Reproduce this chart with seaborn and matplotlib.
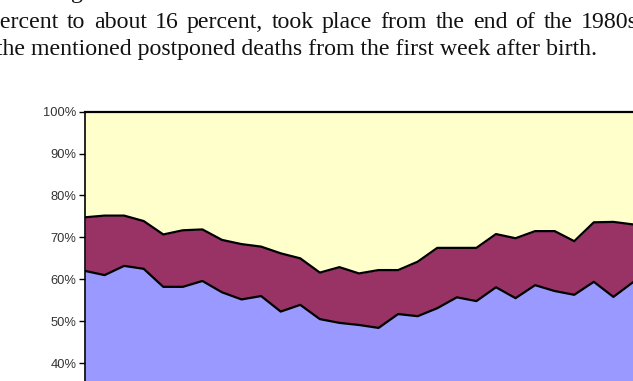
import matplotlib
matplotlib.use("Agg")
import matplotlib.pyplot as plt
import seaborn as sns
import pandas as pd

# ---- data (percent shares) ----
periods = list(range(29))
lower_share = [62.0, 61.0, 63.2, 62.5, 58.2, 58.2, 59.6, 56.9, 55.2, 56.0,
               52.3, 53.9, 50.5, 49.6, 49.1, 48.4, 51.7, 51.2, 53.1, 55.7,
               54.8, 58.1, 55.5, 58.6, 57.2, 56.3, 59.4, 55.8, 59.3]
cumulative_share = [74.8, 75.2, 75.2, 73.9, 70.7, 71.7, 71.9, 69.4, 68.4, 67.8,
                    66.2, 65.0, 61.6, 62.9, 61.4, 62.2, 62.2, 64.2, 67.5, 67.5,
                    67.5, 70.8, 69.8, 71.5, 71.5, 69.1, 73.6, 73.7, 73.1]
ytick_values = [40, 50, 60, 70, 80, 90, 100]
ytick_labels = [f"{v}%" for v in ytick_values]

line2 = "percent to about 16 percent, took place from the end of the 1980s"
line3 = "the mentioned postponed deaths from the first week after birth."

df = pd.DataFrame({"period": periods, "lower": lower_share, "cum": cumulative_share})

sns.set_theme(style="white")
plt.rcParams["font.family"] = ["Liberation Sans", "DejaVu Sans"]

W, H = 633, 381
fig = plt.figure(figsize=(W / 100, H / 100), dpi=100)
fig.patch.set_facecolor("white")


def fx(px):
    return px / W


def fy(py):
    return 1 - py / H


# axes geometry in pixels (plot extends beyond the image on right and bottom)
left_px, top_px, step_px, pct_px = 85, 111.7, 19.57, 4.19
ax = fig.add_axes([fx(left_px), fy(top_px + 100 * pct_px),
                   (len(periods) - 1) * step_px / W, 100 * pct_px / H])

BLUE, MAROON, YELLOW = "#9999FF", "#993366", "#FFFFCC"
ax.fill_between(df["period"], 0, df["lower"], color=BLUE, lw=0, zorder=1)
ax.fill_between(df["period"], df["lower"], df["cum"], color=MAROON, lw=0, zorder=1)
ax.fill_between(df["period"], df["cum"], 100, color=YELLOW, lw=0, zorder=1)

sns.lineplot(data=df, x="period", y="lower", color="black", lw=1.6,
             estimator=None, legend=False, ax=ax, zorder=3)
sns.lineplot(data=df, x="period", y="cum", color="black", lw=1.6,
             estimator=None, legend=False, ax=ax, zorder=3)

ax.set_xlim(0, len(periods) - 1)
ax.set_ylim(0, 100)
ax.set_xticks([])
ax.set_yticks(ytick_values)
ax.set_yticklabels(ytick_labels)
ax.set_xlabel("")
ax.set_ylabel("")
ax.tick_params(axis="y", left=True, length=4, width=1, color="black", pad=2,
               labelsize=9.3, labelcolor="#333333")
for s in ["right", "bottom"]:
    ax.spines[s].set_visible(False)
ax.spines["top"].set_color("black")
ax.spines["top"].set_linewidth(1.6)
ax.spines["left"].set_color("black")
ax.spines["left"].set_linewidth(1.2)
ax.spines["top"].set_zorder(4)

# document text above the chart (cropped paragraph)
serif = ["Liberation Serif", "DejaVu Serif"]
FS = 17.2
TXT = "#111111"
fig.text(fx(71), fy(-1.8), "g", fontsize=FS, family=serif, color=TXT,
         va="baseline", ha="left")

# justified line: spread the words so that the last word starts at the target
renderer = fig.canvas.get_renderer()
words = line2.split(" ")
start_px, last_word_px = -11.5, 581.0
widths = []
for w in words:
    t = fig.text(0, 0, w, fontsize=FS, family=serif)
    widths.append(t.get_window_extent(renderer).width)
    t.remove()
gap = (last_word_px - start_px - sum(widths[:-1])) / (len(words) - 1)
xpos = start_px
for w, wd in zip(words, widths):
    fig.text(fx(xpos), fy(28.3), w, fontsize=FS, family=serif, color=TXT,
             va="baseline", ha="left")
    xpos += wd + gap

fig.text(fx(-4.1), fy(55.4), line3, fontsize=FS, family=serif, color=TXT,
         va="baseline", ha="left")

fig.savefig("out.png", dpi=100)
